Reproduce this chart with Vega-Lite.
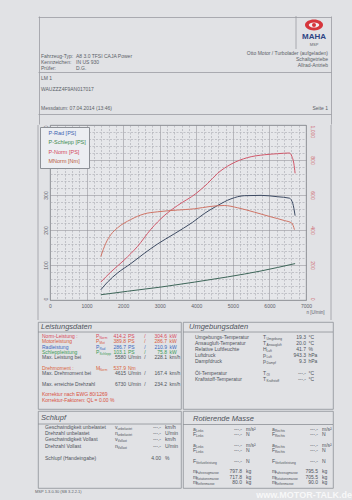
{
  "$schema": "https://vega.github.io/schema/vega-lite/v6.json",
  "background": "#e1e2e5",
  "padding": {"left": 35, "top": 15, "right": 0, "bottom": 0},
  "spacing": 0,
  "columns": 1,
  "config": {"view": {"stroke": null}, "font": "Liberation Sans", "concat": {"spacing": 0}},
  "resolve": {"scale": {"color": "independent"}},
  "datasets": {
    "hdr": [
      {"k": "lab", "t": ["Fahrzeug-Typ:", "Kennzeichen:", "Prüfer:"]},
      {"k": "val", "t": ["A8 3.0 TFSI CAJA Power", "IN US 930", "D.G."]},
      {"k": "right", "t": ["Otto Motor / Turbolader (aufgeladen)", "Schaltgetriebe", "Allrad-Antrieb"]},
      {"k": "lm", "t": "LM 1"},
      {"k": "vin", "t": "WAUZZZ4F9AN017017"},
      {"k": "date", "t": "Messdatum: 07.04.2014 (13:46)"},
      {"k": "page", "t": "Seite 1"},
      {"k": "brand", "t": "MAHA"},
      {"k": "msp", "t": "MSP"}
    ],
    "power": [
      {"series": "P-Rad [PS]", "rpm": 1388, "ps": 29}, {"series": "P-Rad [PS]", "rpm": 1571, "ps": 51},
      {"series": "P-Rad [PS]", "rpm": 1845, "ps": 77}, {"series": "P-Rad [PS]", "rpm": 2210, "ps": 104},
      {"series": "P-Rad [PS]", "rpm": 2575, "ps": 133}, {"series": "P-Rad [PS]", "rpm": 2940, "ps": 160},
      {"series": "P-Rad [PS]", "rpm": 3397, "ps": 189}, {"series": "P-Rad [PS]", "rpm": 3899, "ps": 222},
      {"series": "P-Rad [PS]", "rpm": 4219, "ps": 247}, {"series": "P-Rad [PS]", "rpm": 4584, "ps": 270},
      {"series": "P-Rad [PS]", "rpm": 4949, "ps": 289}, {"series": "P-Rad [PS]", "rpm": 5314, "ps": 298},
      {"series": "P-Rad [PS]", "rpm": 5771, "ps": 299}, {"series": "P-Rad [PS]", "rpm": 6227, "ps": 295},
      {"series": "P-Rad [PS]", "rpm": 6547, "ps": 291}, {"series": "P-Rad [PS]", "rpm": 6638, "ps": 276},
      {"series": "P-Rad [PS]", "rpm": 6702, "ps": 241},
      {"series": "P-Schlepp [PS]", "rpm": 1388, "ps": 15}, {"series": "P-Schlepp [PS]", "rpm": 2119, "ps": 25},
      {"series": "P-Schlepp [PS]", "rpm": 3032, "ps": 37}, {"series": "P-Schlepp [PS]", "rpm": 3945, "ps": 51},
      {"series": "P-Schlepp [PS]", "rpm": 4858, "ps": 66}, {"series": "P-Schlepp [PS]", "rpm": 5771, "ps": 83},
      {"series": "P-Schlepp [PS]", "rpm": 6227, "ps": 93}, {"series": "P-Schlepp [PS]", "rpm": 6702, "ps": 104},
      {"series": "P-Norm [PS]", "rpm": 1388, "ps": 51}, {"series": "P-Norm [PS]", "rpm": 1662, "ps": 80},
      {"series": "P-Norm [PS]", "rpm": 2027, "ps": 114}, {"series": "P-Norm [PS]", "rpm": 2393, "ps": 153},
      {"series": "P-Norm [PS]", "rpm": 2758, "ps": 202}, {"series": "P-Norm [PS]", "rpm": 3123, "ps": 241},
      {"series": "P-Norm [PS]", "rpm": 3488, "ps": 270}, {"series": "P-Norm [PS]", "rpm": 3990, "ps": 304},
      {"series": "P-Norm [PS]", "rpm": 4310, "ps": 333}, {"series": "P-Norm [PS]", "rpm": 4584, "ps": 362},
      {"series": "P-Norm [PS]", "rpm": 4949, "ps": 388}, {"series": "P-Norm [PS]", "rpm": 5405, "ps": 407},
      {"series": "P-Norm [PS]", "rpm": 5862, "ps": 415}, {"series": "P-Norm [PS]", "rpm": 6227, "ps": 418},
      {"series": "P-Norm [PS]", "rpm": 6547, "ps": 420}, {"series": "P-Norm [PS]", "rpm": 6611, "ps": 411},
      {"series": "P-Norm [PS]", "rpm": 6666, "ps": 391}, {"series": "P-Norm [PS]", "rpm": 6702, "ps": 362}
    ],
    "torque": [
      {"series": "MNorm [Nm]", "rpm": 1388, "nm": 248}, {"series": "MNorm [Nm]", "rpm": 1525, "nm": 324},
      {"series": "MNorm [Nm]", "rpm": 1662, "nm": 373}, {"series": "MNorm [Nm]", "rpm": 1845, "nm": 412},
      {"series": "MNorm [Nm]", "rpm": 2210, "nm": 460}, {"series": "MNorm [Nm]", "rpm": 2575, "nm": 492},
      {"series": "MNorm [Nm]", "rpm": 2940, "nm": 504}, {"series": "MNorm [Nm]", "rpm": 3488, "nm": 514},
      {"series": "MNorm [Nm]", "rpm": 3945, "nm": 521}, {"series": "MNorm [Nm]", "rpm": 4401, "nm": 535},
      {"series": "MNorm [Nm]", "rpm": 4766, "nm": 540}, {"series": "MNorm [Nm]", "rpm": 5132, "nm": 527},
      {"series": "MNorm [Nm]", "rpm": 5588, "nm": 502}, {"series": "MNorm [Nm]", "rpm": 6044, "nm": 475},
      {"series": "MNorm [Nm]", "rpm": 6410, "nm": 454}, {"series": "MNorm [Nm]", "rpm": 6611, "nm": 440},
      {"series": "MNorm [Nm]", "rpm": 6684, "nm": 402}
    ],
    "leist": [
      {"r": 0, "label": "Norm-Leistung :", "sym": "P", "sub": "Norm", "v1": "414.2", "u1": "PS", "v2": "304.6", "u2": "kW", "kind": "norm"},
      {"r": 1, "label": "Motorleistung", "sym": "P", "sub": "Mot", "v1": "389.8", "u1": "PS", "v2": "286.7", "u2": "kW", "kind": "mot"},
      {"r": 2, "label": "Radleistung", "sym": "P", "sub": "Rad", "v1": "286.7", "u1": "PS", "v2": "210.9", "u2": "kW", "kind": "rad"},
      {"r": 3, "label": "Schleppleistung", "sym": "P", "sub": "Schlepp", "v1": "103.1", "u1": "PS", "v2": "75.8", "u2": "kW", "kind": "schlepp"},
      {"r": 4, "label": "Max. Leistung bei", "sym": "", "sub": "", "v1": "5580", "u1": "U/min", "v2": "228.1", "u2": "km/h", "kind": "plain"},
      {"r": 6, "label": "Drehmoment :", "sym": "M", "sub": "Norm", "v1": "537.9", "u1": "Nm", "v2": "", "u2": "", "kind": "torque"},
      {"r": 7, "label": "Max. Drehmoment bei", "sym": "", "sub": "", "v1": "4615", "u1": "U/min", "v2": "167.4", "u2": "km/h", "kind": "plain"},
      {"r": 9, "label": "Max. erreichte Drehzahl", "sym": "", "sub": "", "v1": "6730", "u1": "U/min", "v2": "234.2", "u2": "km/h", "kind": "plain"},
      {"r": 11, "label": "Korrektur nach EWG 80/1269", "sym": "", "sub": "", "v1": "", "u1": "", "v2": "", "u2": "", "kind": "korr"},
      {"r": 12, "label": "Korrektur-Faktoren:  QL =   0.00 %", "sym": "", "sub": "", "v1": "", "u1": "", "v2": "", "u2": "", "kind": "korr"}
    ],
    "umg": [
      {"r": 0, "label": "Umgebungs-Temperatur", "sym": "T", "sub": "Umgebung", "v": "19.3", "u": "°C"},
      {"r": 1, "label": "Ansaugluft-Temperatur", "sym": "T", "sub": "Ansaugluft", "v": "20.0", "u": "°C"},
      {"r": 2, "label": "Relative Luftfeuchte", "sym": "H", "sub": "Luft", "v": "41.7", "u": "%"},
      {"r": 3, "label": "Luftdruck", "sym": "p", "sub": "Luft", "v": "943.3", "u": "hPa"},
      {"r": 4, "label": "Dampfdruck", "sym": "p", "sub": "Dampf", "v": "9.3", "u": "hPa"},
      {"r": 6, "label": "Öl-Temperatur", "sym": "T", "sub": "Öl", "v": "---.-", "u": "°C"},
      {"r": 7, "label": "Kraftstoff-Temperatur", "sym": "T", "sub": "Kraftstoff", "v": "---.-", "u": "°C"}
    ],
    "schlupf": [
      {"r": 0, "label": "Geschwindigkeit unbelastet", "sym": "v", "sub": "unbelastet", "v": "---.-", "u": "km/h"},
      {"r": 1, "label": "Drehzahl unbelastet", "sym": "n", "sub": "unbelastet", "v": "---.-", "u": "U/min"},
      {"r": 2, "label": "Geschwindigkeit Vollast", "sym": "v", "sub": "Vollast", "v": "---.-", "u": "km/h"},
      {"r": 3, "label": "Drehzahl Vollast", "sym": "n", "sub": "Vollast", "v": "---.-", "u": "U/min"},
      {"r": 5, "label": "Schlupf (Handeingabe)", "sym": "", "sub": "", "v": "4.00", "u": "%"}
    ],
    "rot": [
      {"r": 0, "s": "a", "sub1": "Links", "sub2": "Rechts", "v1": "---.-", "v2": "---.-", "u": "m/s²"},
      {"r": 1, "s": "F", "sub1": "Links", "sub2": "Rechts", "v1": "---.-", "v2": "---.-", "u": "N"},
      {"r": 3, "s": "a", "sub1": "Links", "sub2": "Rechts", "v1": "---.-", "v2": "---.-", "u": "m/s²"},
      {"r": 4, "s": "F", "sub1": "Links", "sub2": "Rechts", "v1": "---.-", "v2": "---.-", "u": "N"},
      {"r": 6, "s": "F", "sub1": "Verlustleistung", "sub2": "Verlustleistung", "v1": "---.-", "v2": "---.-", "u": "N"},
      {"r": 8, "s": "m", "sub1": "Fahrzeugmasse", "sub2": "Fahrzeugmasse", "v1": "797.8", "v2": "795.5", "u": "kg"},
      {"r": 9, "s": "m", "sub1": "Rotationsmasse", "sub2": "Rotationsmasse", "v1": "717.8", "v2": "705.5", "u": "kg"},
      {"r": 10, "s": "m", "sub1": "Reifenmasse", "sub2": "Reifenmasse", "v1": "80.0", "v2": "90.0", "u": "kg"}
    ],
    "foot": [{"t": "MSP 1.3.0.30 (SB 3.2.2.1)", "w": "www.MOTOR-TALK.de"}]
  },
  "concat": [
    {
      "width": 293, "height": 108,
      "data": {"name": "hdr"},
      "layer": [
        {"transform": [{"filter": "datum.k == 'lab'"}],
         "mark": {"type": "text", "align": "left", "baseline": "top", "fontSize": 5, "lineHeight": 6, "color": "#5b5f67"},
         "encoding": {
           "x": {"datum": 3, "type": "quantitative", "scale": {"domain": [0, 293], "nice": false, "zero": false},
                 "axis": {"values": [0.5, 292.5], "grid": true, "gridColor": "#9a9ca2", "gridWidth": 0.8, "labels": false, "ticks": false, "domain": false, "title": null}},
           "y": {"datum": 37.5, "type": "quantitative", "scale": {"domain": [0, 108], "reverse": true, "nice": false, "zero": false},
                 "axis": {"values": [0.5, 33, 56, 85, 98], "grid": true, "gridColor": "#9a9ca2", "gridWidth": 0.8, "labels": false, "ticks": false, "domain": false, "title": null}},
           "text": {"field": "t"}
         }},
        {"transform": [{"filter": "datum.k == 'val'"}],
         "mark": {"type": "text", "align": "left", "baseline": "top", "fontSize": 5, "lineHeight": 6, "color": "#5b5f67"},
         "encoding": {"x": {"datum": 38}, "y": {"datum": 37.5}, "text": {"field": "t"}}},
        {"transform": [{"filter": "datum.k == 'right'"}],
         "mark": {"type": "text", "align": "right", "baseline": "top", "fontSize": 5, "lineHeight": 6, "color": "#5b5f67"},
         "encoding": {"x": {"datum": 290}, "y": {"datum": 34.5}, "text": {"field": "t"}}},
        {"transform": [{"filter": "datum.k == 'lm'"}],
         "mark": {"type": "text", "align": "left", "baseline": "middle", "fontSize": 5, "color": "#5b5f67"},
         "encoding": {"x": {"datum": 3}, "y": {"datum": 62}, "text": {"field": "t"}}},
        {"transform": [{"filter": "datum.k == 'vin'"}],
         "mark": {"type": "text", "align": "left", "baseline": "middle", "fontSize": 5, "color": "#5b5f67"},
         "encoding": {"x": {"datum": 3}, "y": {"datum": 73}, "text": {"field": "t"}}},
        {"transform": [{"filter": "datum.k == 'date'"}],
         "mark": {"type": "text", "align": "left", "baseline": "middle", "fontSize": 5, "color": "#5b5f67"},
         "encoding": {"x": {"datum": 3}, "y": {"datum": 92}, "text": {"field": "t"}}},
        {"transform": [{"filter": "datum.k == 'page'"}],
         "mark": {"type": "text", "align": "right", "baseline": "middle", "fontSize": 5, "color": "#5b5f67"},
         "encoding": {"x": {"datum": 290}, "y": {"datum": 92}, "text": {"field": "t"}}},
        {"transform": [{"filter": "datum.k == 'brand'"}],
         "mark": {"type": "rule", "color": "#9a9ca2", "strokeWidth": 0.8},
         "encoding": {"x": {"datum": 258}, "y": {"datum": 0}, "y2": {"datum": 33}}},
        {"transform": [{"filter": "datum.k == 'brand'"}],
         "mark": {"type": "point", "shape": "M -1 0 A 1 0.6 0 1 1 1 0 A 1 0.6 0 1 1 -1 0 Z", "size": 324, "filled": true, "color": "#d6363c", "opacity": 1},
         "encoding": {"x": {"datum": 276}, "y": {"datum": 9}}},
        {"transform": [{"filter": "datum.k == 'brand'"}],
         "mark": {"type": "point", "shape": "M -1 0 A 1 0.5 0 1 1 1 0 A 1 0.5 0 1 1 -1 0 Z", "size": 110, "filled": true, "color": "#f2eef0", "opacity": 1},
         "encoding": {"x": {"datum": 276}, "y": {"datum": 9}}},
        {"transform": [{"filter": "datum.k == 'brand'"}],
         "mark": {"type": "point", "shape": "circle", "size": 16, "filled": true, "color": "#d6363c", "opacity": 1},
         "encoding": {"x": {"datum": 276}, "y": {"datum": 9}}},
        {"transform": [{"filter": "datum.k == 'brand'"}],
         "mark": {"type": "text", "align": "center", "baseline": "middle", "fontSize": 8, "fontWeight": "bold", "color": "#2e4584"},
         "encoding": {"x": {"datum": 276}, "y": {"datum": 21}, "text": {"field": "t"}}},
        {"transform": [{"filter": "datum.k == 'msp'"}],
         "mark": {"type": "text", "align": "center", "baseline": "middle", "fontSize": 4, "color": "#5b5f67"},
         "encoding": {"x": {"datum": 276}, "y": {"datum": 29}, "text": {"field": "t"}}}
      ]
    },
    {
      "bounds": "flush",
      "spacing": 0,
      "hconcat": [
        {
          "width": 12, "height": 175,
          "data": {"values": [{}]},
          "mark": {"type": "rule", "color": "#9a9ca2", "strokeWidth": 0.8},
          "encoding": {"x": {"datum": 0, "type": "quantitative", "scale": {"domain": [0, 12], "nice": false, "zero": false}, "axis": null},
                       "y": {"datum": 0, "type": "quantitative", "scale": {"domain": [0, 175], "reverse": true, "nice": false, "zero": false}, "axis": null},
                       "y2": {"datum": 195}}
        },
        {
          "width": 256, "height": 175,
          "view": {"fill": "#e6e7ea", "stroke": "#8d9096", "strokeWidth": 0.8},
          "layer": [
            {"data": {"name": "power"},
             "mark": {"type": "line", "strokeWidth": 1, "interpolate": "monotone"},
             "encoding": {
               "x": {"field": "rpm", "type": "quantitative", "scale": {"domain": [0, 7000], "nice": false, "zero": false},
                     "axis": {"values": [0,200,400,600,800,1000,1200,1400,1600,1800,2000,2200,2400,2600,2800,3000,3200,3400,3600,3800,4000,4200,4400,4600,4800,5000,5200,5400,5600,5800,6000,6200,6400,6600,6800,7000],
                              "labelExpr": "datum.value % 1000 === 0 ? '' + datum.value : ''", "labelFlush": false, "labelOverlap": false, "labelBound": false,
                              "grid": true,
                              "gridColor": {"condition": {"test": "datum.value % 1000 === 0", "value": "#8a8c92"}, "value": "#a8aab0"},
                              "gridDash": {"condition": {"test": "datum.value % 1000 === 0", "value": [1, 0]}, "value": [2, 1.5]},
                              "gridWidth": 0.6, "ticks": false, "domain": false, "labelFontSize": 5, "labelColor": "#5d6169", "labelPadding": 3,
                              "title": "n [U/min]", "titleFontSize": 4.5, "titleFontWeight": "normal", "titleColor": "#5d6169",
                              "titleAnchor": "end", "titleAlign": "left", "titlePadding": 1}},
               "y": {"field": "ps", "type": "quantitative", "scale": {"domain": [0, 500], "nice": false},
                     "axis": {"values": [0,20,40,60,80,100,120,140,160,180,200,220,240,260,280,300,320,340,360,380,400,420,440,460,480,500],
                              "labelExpr": "datum.value % 100 === 0 ? datum.label : ''", "labelAngle": -90, "labelFlush": false, "labelOverlap": false,
                              "labelAlign": {"condition": [{"test": "datum.value === 500", "value": "right"}, {"test": "datum.value === 0", "value": "left"}], "value": "center"},
                              "labelBaseline": "bottom",
                              "grid": true,
                              "gridColor": {"condition": {"test": "datum.value % 100 === 0", "value": "#8a8c92"}, "value": "#a8aab0"},
                              "gridDash": {"condition": {"test": "datum.value % 100 === 0", "value": [1, 0]}, "value": [2, 1.5]},
                              "gridWidth": 0.6, "ticks": false, "domain": false, "labelFontSize": 5, "labelColor": "#5d6169", "labelPadding": 2, "title": null}},
               "color": {"field": "series", "type": "nominal",
                         "scale": {"domain": ["P-Rad [PS]", "P-Schlepp [PS]", "P-Norm [PS]", "MNorm [Nm]"], "range": ["#3d4b63", "#3e6659", "#d0586a", "#cf7466"]},
                         "legend": {"orient": "top-left", "offset": 2, "title": null, "fillColor": "#eceef2", "strokeColor": "#8d9096", "padding": 3,
                                    "labelFontSize": 5.5, "symbolSize": 0, "symbolStrokeWidth": 0, "symbolOpacity": 0, "labelOffset": 0, "rowPadding": 2.5,
                                    "encode": {"labels": {"update": {"fill": {"signal": "datum.value === 'P-Rad [PS]' ? '#3b63b0' : datum.value === 'P-Schlepp [PS]' ? '#3c8a4c' : datum.value === 'P-Norm [PS]' ? '#d4475a' : '#b85a3c'"}}}}}}
             }},
            {"data": {"name": "torque"},
             "mark": {"type": "line", "strokeWidth": 1, "interpolate": "monotone"},
             "encoding": {
               "x": {"field": "rpm", "type": "quantitative", "scale": {"domain": [0, 7000], "nice": false, "zero": false},
                     "axis": {"values": [0,200,400,600,800,1000,1200,1400,1600,1800,2000,2200,2400,2600,2800,3000,3200,3400,3600,3800,4000,4200,4400,4600,4800,5000,5200,5400,5600,5800,6000,6200,6400,6600,6800,7000],
                              "labelExpr": "datum.value % 1000 === 0 ? '' + datum.value : ''", "labelFlush": false, "labelOverlap": false, "labelBound": false,
                              "grid": true,
                              "gridColor": {"condition": {"test": "datum.value % 1000 === 0", "value": "#8a8c92"}, "value": "#a8aab0"},
                              "gridDash": {"condition": {"test": "datum.value % 1000 === 0", "value": [1, 0]}, "value": [2, 1.5]},
                              "gridWidth": 0.6, "ticks": false, "domain": false, "labelFontSize": 5, "labelColor": "#5d6169", "labelPadding": 3,
                              "title": "n [U/min]", "titleFontSize": 4.5, "titleFontWeight": "normal", "titleColor": "#5d6169",
                              "titleAnchor": "end", "titleAlign": "left", "titlePadding": 1}},
               "y": {"field": "nm", "type": "quantitative", "scale": {"domain": [0, 1000], "nice": false},
                     "axis": {"orient": "right", "values": [0, 200, 400, 600, 800, 1000], "labelAngle": 90, "labelFlush": false,
                              "labelAlign": {"condition": [{"test": "datum.value === 1000", "value": "left"}, {"test": "datum.value === 0", "value": "right"}], "value": "center"},
                              "grid": false, "ticks": false, "domain": false,
                              "labelFontSize": 5, "labelColor": "#d06a70", "labelPadding": 3, "title": null}},
               "color": {"field": "series", "type": "nominal"}
             }}
          ],
          "resolve": {"scale": {"y": "independent"}}
        },
        {
          "width": 25, "height": 175,
          "data": {"values": [{}]},
          "mark": {"type": "rule", "color": "#9a9ca2", "strokeWidth": 0.8},
          "encoding": {"x": {"datum": 25, "type": "quantitative", "scale": {"domain": [0, 25], "nice": false, "zero": false}, "axis": null},
                       "y": {"datum": 0, "type": "quantitative", "scale": {"domain": [0, 175], "reverse": true, "nice": false, "zero": false}, "axis": null},
                       "y2": {"datum": 195}}
        }
      ]
    },
    {
      "hconcat": [
        {
          "width": 143, "height": 87,
          "view": {"stroke": "#8d9096", "strokeWidth": 0.8},
          "layer": [
            {"data": {"values": [{"t": "Leistungsdaten"}]},
             "layer": [
               {"mark": {"type": "text", "align": "left", "baseline": "middle", "fontSize": 7.5, "fontStyle": "italic", "color": "#50545c"},
                "encoding": {"x": {"datum": 3, "type": "quantitative", "scale": {"domain": [0, 143], "nice": false, "zero": false}, "axis": null},
                             "y": {"datum": -1.7, "type": "quantitative", "scale": {"domain": [-2.64, 13.77], "reverse": true, "nice": false, "zero": false}, "axis": null},
                             "text": {"field": "t"}}},
               {"mark": {"type": "rule", "color": "#8d9096", "strokeWidth": 0.8},
                "encoding": {"x": {"datum": 0, "axis": null}, "x2": {"datum": 143}, "y": {"datum": -0.75, "axis": null}}}
             ]},
            {"data": {"name": "leist"},
             "encoding": {"y": {"field": "r", "type": "quantitative", "axis": null},
                          "fill": {"field": "kind", "type": "nominal", "legend": null,
                                   "scale": {"domain": ["norm", "mot", "rad", "schlepp", "plain", "torque", "korr"], "range": ["#d9485a", "#d95a3c", "#3b68c0", "#3c9a55", "#4f535b", "#d9643c", "#d9503c"]}}},
             "layer": [
               {"mark": {"type": "text", "align": "left", "baseline": "middle", "fontSize": 5},
                "encoding": {"x": {"datum": 4, "axis": null}, "text": {"field": "label"}}},
               {"mark": {"type": "text", "align": "left", "baseline": "middle", "fontSize": 5},
                "encoding": {"x": {"datum": 58, "axis": null}, "text": {"field": "sym"}}},
               {"mark": {"type": "text", "align": "left", "baseline": "middle", "fontSize": 3.2, "dy": 1.8},
                "encoding": {"x": {"datum": 61.5, "axis": null}, "text": {"field": "sub"}}},
               {"mark": {"type": "text", "align": "right", "baseline": "middle", "fontSize": 5},
                "encoding": {"x": {"datum": 88, "axis": null}, "text": {"field": "v1"}}},
               {"mark": {"type": "text", "align": "left", "baseline": "middle", "fontSize": 5},
                "encoding": {"x": {"datum": 90, "axis": null}, "text": {"field": "u1"}}},
               {"transform": [{"filter": "datum.v2 != ''"}],
                "mark": {"type": "text", "align": "center", "baseline": "middle", "fontSize": 5},
                "encoding": {"x": {"datum": 107, "axis": null}, "text": {"value": "/"}}},
               {"mark": {"type": "text", "align": "right", "baseline": "middle", "fontSize": 5},
                "encoding": {"x": {"datum": 129, "axis": null}, "text": {"field": "v2"}}},
               {"mark": {"type": "text", "align": "left", "baseline": "middle", "fontSize": 5},
                "encoding": {"x": {"datum": 131.5, "axis": null}, "text": {"field": "u2"}}}
             ]}
          ]
        },
        {
          "width": 150, "height": 87,
          "view": {"stroke": "#8d9096", "strokeWidth": 0.8},
          "layer": [
            {"data": {"values": [{"t": "Umgebungsdaten"}]},
             "layer": [
               {"mark": {"type": "text", "align": "left", "baseline": "middle", "fontSize": 7.5, "fontStyle": "italic", "color": "#50545c"},
                "encoding": {"x": {"datum": 6, "type": "quantitative", "scale": {"domain": [0, 150], "nice": false, "zero": false}, "axis": null},
                             "y": {"datum": -1.67, "type": "quantitative", "scale": {"domain": [-2.5, 12], "reverse": true, "nice": false, "zero": false}, "axis": null},
                             "text": {"field": "t"}}},
               {"mark": {"type": "rule", "color": "#8d9096", "strokeWidth": 0.8},
                "encoding": {"x": {"datum": 0, "axis": null}, "x2": {"datum": 150}, "y": {"datum": -0.83, "axis": null}}}
             ]},
            {"data": {"name": "umg"},
             "encoding": {"y": {"field": "r", "type": "quantitative", "axis": null}},
             "layer": [
               {"mark": {"type": "text", "align": "left", "baseline": "middle", "fontSize": 5, "color": "#4f535b"},
                "encoding": {"x": {"datum": 12, "axis": null}, "text": {"field": "label"}}},
               {"mark": {"type": "text", "align": "left", "baseline": "middle", "fontSize": 5, "color": "#4f535b"},
                "encoding": {"x": {"datum": 80, "axis": null}, "text": {"field": "sym"}}},
               {"mark": {"type": "text", "align": "left", "baseline": "middle", "fontSize": 3.2, "dy": 1.8, "color": "#4f535b"},
                "encoding": {"x": {"datum": 83.5, "axis": null}, "text": {"field": "sub"}}},
               {"mark": {"type": "text", "align": "right", "baseline": "middle", "fontSize": 5, "color": "#4f535b"},
                "encoding": {"x": {"datum": 123, "axis": null}, "text": {"field": "v"}}},
               {"mark": {"type": "text", "align": "left", "baseline": "middle", "fontSize": 5, "color": "#4f535b"},
                "encoding": {"x": {"datum": 125.5, "axis": null}, "text": {"field": "u"}}}
             ]}
          ]
        }
      ]
    },
    {
      "hconcat": [
        {
          "width": 143, "height": 77,
          "view": {"stroke": "#8d9096", "strokeWidth": 0.8},
          "layer": [
            {"data": {"values": [{"t": "Schlupf"}]},
             "layer": [
               {"mark": {"type": "text", "align": "left", "baseline": "middle", "fontSize": 7.5, "fontStyle": "italic", "color": "#50545c"},
                "encoding": {"x": {"datum": 3, "type": "quantitative", "scale": {"domain": [0, 143], "nice": false, "zero": false}, "axis": null},
                             "y": {"datum": -1.45, "type": "quantitative", "scale": {"domain": [-2.58, 9.84], "reverse": true, "nice": false, "zero": false}, "axis": null},
                             "text": {"field": "t"}}},
               {"mark": {"type": "rule", "color": "#8d9096", "strokeWidth": 0.8},
                "encoding": {"x": {"datum": 0, "axis": null}, "x2": {"datum": 143}, "y": {"datum": -0.48, "axis": null}}}
             ]},
            {"data": {"name": "schlupf"},
             "encoding": {"y": {"field": "r", "type": "quantitative", "axis": null}},
             "layer": [
               {"mark": {"type": "text", "align": "left", "baseline": "middle", "fontSize": 5, "color": "#4f535b"},
                "encoding": {"x": {"datum": 7, "axis": null}, "text": {"field": "label"}}},
               {"mark": {"type": "text", "align": "left", "baseline": "middle", "fontSize": 5, "color": "#4f535b"},
                "encoding": {"x": {"datum": 77, "axis": null}, "text": {"field": "sym"}}},
               {"mark": {"type": "text", "align": "left", "baseline": "middle", "fontSize": 3.2, "dy": 1.8, "color": "#4f535b"},
                "encoding": {"x": {"datum": 79.5, "axis": null}, "text": {"field": "sub"}}},
               {"mark": {"type": "text", "align": "right", "baseline": "middle", "fontSize": 5, "color": "#4f535b"},
                "encoding": {"x": {"datum": 123, "axis": null}, "text": {"field": "v"}}},
               {"mark": {"type": "text", "align": "left", "baseline": "middle", "fontSize": 5, "color": "#4f535b"},
                "encoding": {"x": {"datum": 127, "axis": null}, "text": {"field": "u"}}}
             ]}
          ]
        },
        {
          "width": 150, "height": 77,
          "view": {"stroke": "#8d9096", "strokeWidth": 0.8},
          "layer": [
            {"data": {"values": [{"t": "Rotierende Masse"}]},
             "layer": [
               {"mark": {"type": "text", "align": "left", "baseline": "middle", "fontSize": 7.5, "fontStyle": "italic", "color": "#50545c"},
                "encoding": {"x": {"datum": 10, "type": "quantitative", "scale": {"domain": [0, 150], "nice": false, "zero": false}, "axis": null},
                             "y": {"datum": -1.9, "type": "quantitative", "scale": {"domain": [-3.4, 11.13], "reverse": true, "nice": false, "zero": false}, "axis": null},
                             "text": {"field": "t"}}},
               {"mark": {"type": "rule", "color": "#8d9096", "strokeWidth": 0.8},
                "encoding": {"x": {"datum": 0, "axis": null}, "x2": {"datum": 150}, "y": {"datum": -0.85, "axis": null}}}
             ]},
            {"data": {"name": "rot"},
             "encoding": {"y": {"field": "r", "type": "quantitative", "axis": null}},
             "layer": [
               {"mark": {"type": "text", "align": "left", "baseline": "middle", "fontSize": 5, "color": "#4f535b"},
                "encoding": {"x": {"datum": 10, "axis": null}, "text": {"field": "s"}}},
               {"mark": {"type": "text", "align": "left", "baseline": "middle", "fontSize": 3.2, "dy": 1.8, "color": "#4f535b"},
                "encoding": {"x": {"datum": 13, "axis": null}, "text": {"field": "sub1"}}},
               {"mark": {"type": "text", "align": "right", "baseline": "middle", "fontSize": 5, "color": "#4f535b"},
                "encoding": {"x": {"datum": 59, "axis": null}, "text": {"field": "v1"}}},
               {"mark": {"type": "text", "align": "left", "baseline": "middle", "fontSize": 5, "color": "#4f535b"},
                "encoding": {"x": {"datum": 63, "axis": null}, "text": {"field": "u"}}},
               {"mark": {"type": "text", "align": "left", "baseline": "middle", "fontSize": 5, "color": "#4f535b"},
                "encoding": {"x": {"datum": 89, "axis": null}, "text": {"field": "s"}}},
               {"mark": {"type": "text", "align": "left", "baseline": "middle", "fontSize": 3.2, "dy": 1.8, "color": "#4f535b"},
                "encoding": {"x": {"datum": 92, "axis": null}, "text": {"field": "sub2"}}},
               {"mark": {"type": "text", "align": "right", "baseline": "middle", "fontSize": 5, "color": "#4f535b"},
                "encoding": {"x": {"datum": 135, "axis": null}, "text": {"field": "v2"}}},
               {"mark": {"type": "text", "align": "left", "baseline": "middle", "fontSize": 5, "color": "#4f535b"},
                "encoding": {"x": {"datum": 139, "axis": null}, "text": {"field": "u"}}}
             ]}
          ]
        }
      ]
    },
    {
      "width": 293, "height": 14,
      "data": {"name": "foot"},
      "layer": [
        {"mark": {"type": "text", "align": "left", "baseline": "middle", "fontSize": 4, "color": "#5b5f67"},
         "encoding": {"x": {"datum": -3, "type": "quantitative", "scale": {"domain": [0, 293], "nice": false, "zero": false}, "axis": null},
                      "y": {"datum": 3, "type": "quantitative", "scale": {"domain": [0, 14], "reverse": true, "nice": false, "zero": false}, "axis": null},
                      "text": {"field": "t"}}},
        {"mark": {"type": "text", "align": "right", "baseline": "middle", "fontSize": 9, "fontWeight": "bold", "color": "#ffffff", "opacity": 0.75},
         "encoding": {"x": {"datum": 314, "axis": null}, "y": {"datum": 6, "axis": null}, "text": {"field": "w"}}}
      ]
    }
  ]
}
